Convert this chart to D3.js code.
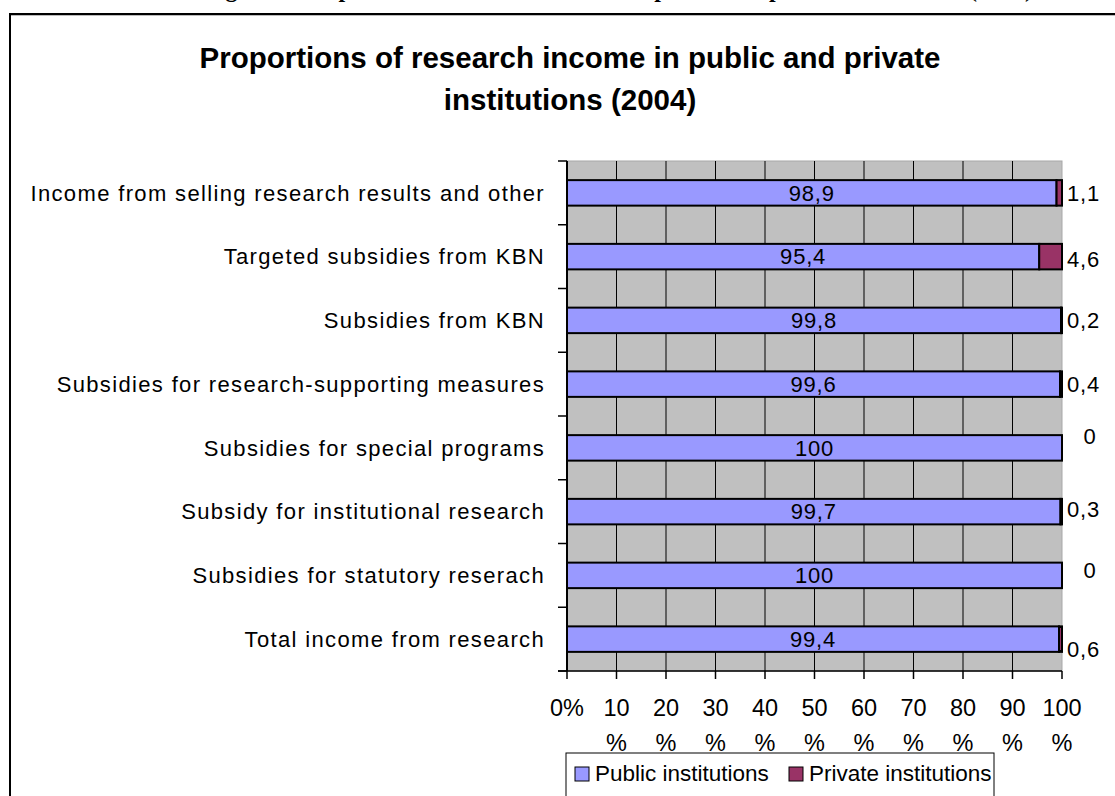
<!DOCTYPE html>
<html><head><meta charset="utf-8">
<script src="https://cdn.jsdelivr.net/npm/d3@7"></script>
<style>
html,body{margin:0;padding:0;background:#fff;}
svg{display:block;font-family:Arial,"Liberation Sans",sans-serif;}
</style></head>
<body>
<svg id="chart" width="1115" height="796"></svg>
<script>
const categories = [
  "Income from selling research results and other",
  "Targeted subsidies from KBN",
  "Subsidies from KBN",
  "Subsidies for research-supporting measures",
  "Subsidies for special programs",
  "Subsidy for institutional research",
  "Subsidies for statutory reserach",
  "Total income from research"
];
const publicValues  = [98.9, 95.4, 99.8, 99.6, 100, 99.7, 100, 99.4];
const privateValues = [1.1, 4.6, 0.2, 0.4, 0, 0.3, 0, 0.6];
const seriesNames = ["Public institutions", "Private institutions"];
const tickValues = [0,10,20,30,40,50,60,70,80,90,100];
const tickLabels = ["0%","10 %","20 %","30 %","40 %","50 %","60 %","70 %","80 %","90 %","100 %"];
const titleLines = ["Proportions of research income in public and private", "institutions (2004)"];
const headerText = "Figure 5. Proportions of research income in public and private institutions (2004)";

// layout (not data)
const privLabelNudge = [0, 3, 0, 0, -12, -2, -5, 10];
const colors = ["#9999FF", "#993366"];

const svg = d3.select("#chart");
const loc = d3.formatLocale({decimal: ",", thousands: " ", grouping: [3], currency: ["", ""]});
const fmt = v => loc.format("~g")(v);

// cut-off header line above the frame (only descenders visible)
svg.append("text").attr("x", 1033).attr("y", -3).attr("text-anchor", "end")
  .style("font-family", "'Liberation Serif','Times New Roman',serif").style("font-weight", "bold")
  .style("font-size", "24px").text(headerText);

// outer frame
svg.append("rect").attr("x", 10).attr("y", 14).attr("width", 1120).attr("height", 800)
  .attr("fill", "none").attr("stroke", "#000").attr("stroke-width", 2);
svg.append("line").attr("x1", 11).attr("x2", 1115).attr("y1", 15.5).attr("y2", 15.5)
  .attr("stroke", "#bbb").attr("stroke-width", 1);

// title
const title = svg.append("text").attr("text-anchor", "middle")
  .style("font-weight", "bold").style("font-size", "29.5px").attr("fill", "#000");
titleLines.forEach((t, i) => title.append("tspan").attr("x", 570).attr("y", 68 + i * 42).text(t));

const x0 = 567, x1 = 1062, y0 = 161, y1 = 671;
const x = d3.scaleLinear().domain([0, 100]).range([x0, x1]);
const y = d3.scaleBand().domain(categories).range([y0, y1]).paddingInner(0.6).paddingOuter(0.3);

// plot area
svg.append("rect").attr("x", x0).attr("y", y0).attr("width", x1 - x0).attr("height", y1 - y0)
  .attr("fill", "#C0C0C0").attr("stroke", "#a8a8a8").attr("stroke-width", 1);

// vertical gridlines
svg.append("g").selectAll("line").data(tickValues.slice(1, -1)).join("line")
  .attr("x1", d => x(d)).attr("x2", d => x(d)).attr("y1", y0).attr("y2", y1)
  .attr("stroke", "#000").attr("stroke-width", 1);

// bars
const rows = categories.map((c, i) => ({c, pub: publicValues[i], priv: privateValues[i], i}));
const bars = svg.append("g");
bars.selectAll(".pub").data(rows).join("rect")
  .attr("x", x(0)).attr("y", d => y(d.c)).attr("width", d => x(d.pub) - x(0)).attr("height", y.bandwidth())
  .attr("fill", colors[0]).attr("stroke", "#000").attr("stroke-width", 2);
bars.selectAll(".priv").data(rows.filter(d => d.priv > 0)).join("rect")
  .attr("x", d => x(d.pub)).attr("y", d => y(d.c)).attr("width", d => x(d.pub + d.priv) - x(d.pub)).attr("height", y.bandwidth())
  .attr("fill", colors[1]).attr("stroke", "#000").attr("stroke-width", 2);

// left axis with ticks at band boundaries
svg.append("line").attr("x1", x0).attr("x2", x0).attr("y1", y0).attr("y2", y1).attr("stroke", "#000").attr("stroke-width", 2);
const step = (y1 - y0) / categories.length;
svg.append("g").selectAll("line").data(d3.range(categories.length + 1)).join("line")
  .attr("x1", x0 - 9).attr("x2", x0).attr("y1", d => y0 + d * step).attr("y2", d => y0 + d * step)
  .attr("stroke", "#000").attr("stroke-width", 1.5);

// bottom axis
svg.append("line").attr("x1", x0 - 9).attr("x2", x1).attr("y1", y1).attr("y2", y1).attr("stroke", "#000").attr("stroke-width", 1.5);
svg.append("g").selectAll("line").data(tickValues).join("line")
  .attr("x1", d => x(d)).attr("x2", d => x(d)).attr("y1", y1).attr("y2", y1 + 8)
  .attr("stroke", "#000").attr("stroke-width", 1.5);
const tl = svg.append("g").style("font-size", "23.5px").attr("text-anchor", "middle");
tickValues.forEach((v, i) => {
  const parts = tickLabels[i].split(" ");
  const t = tl.append("text").attr("x", x(v));
  parts.forEach((p, j) => t.append("tspan").attr("x", x(v)).attr("y", 716 + j * 35).text(p));
});

// category labels
svg.append("g").style("font-size", "22px").style("letter-spacing", "1.35px").attr("text-anchor", "end")
  .selectAll("text").data(categories).join("text")
  .attr("x", 545).attr("y", d => y(d) + y.bandwidth() / 2).attr("dy", "0.35em").text(d => d);

// data labels
const lab = svg.append("g").style("font-size", "22px").style("letter-spacing", "0.8px");
lab.selectAll(".pl").data(rows).join("text").attr("text-anchor", "middle")
  .attr("x", d => (x(0) + x(d.pub)) / 2).attr("y", d => y(d.c) + y.bandwidth() / 2).attr("dy", "0.35em")
  .text(d => fmt(d.pub));
lab.selectAll(".vl").data(rows).join("text").attr("text-anchor", d => d.priv > 0 ? "start" : "middle")
  .attr("x", d => d.priv > 0 ? x(100) + 5 : x(100) + 28)
  .attr("y", d => y(d.c) + y.bandwidth() / 2 + privLabelNudge[d.i]).attr("dy", "0.35em")
  .text(d => fmt(d.priv));

// legend
const lg = svg.append("g");
lg.append("rect").attr("x", 566).attr("y", 753).attr("width", 428).attr("height", 60)
  .attr("fill", "#fff").attr("stroke", "#000").attr("stroke-width", 1);
const items = [{n: seriesNames[0], c: colors[0], x: 575}, {n: seriesNames[1], c: colors[1], x: 789}];
items.forEach(it => {
  lg.append("rect").attr("x", it.x).attr("y", 767).attr("width", 14).attr("height", 14)
    .attr("fill", it.c).attr("stroke", "#000").attr("stroke-width", 1);
  lg.append("text").attr("x", it.x + 20).attr("y", 781).style("font-size", "22.5px").text(it.n);
});
</script>
</body></html>
